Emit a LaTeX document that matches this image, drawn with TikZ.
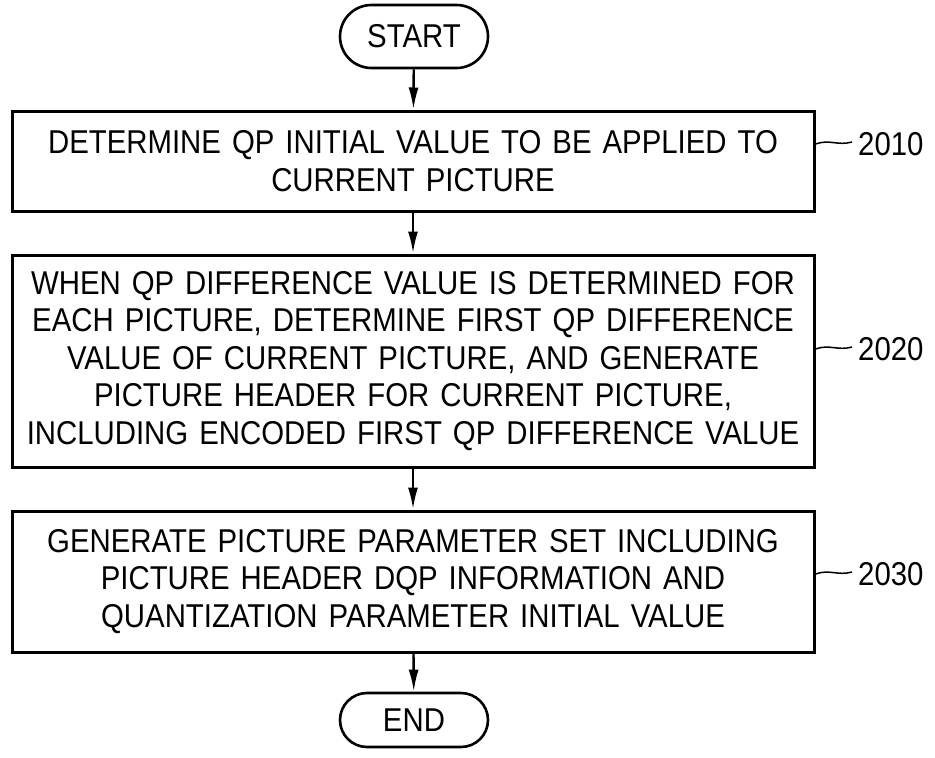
\documentclass[tikz,border=0pt]{standalone}
\usepackage{fontspec}
\setmainfont[FakeStretch=0.89]{Liberation Sans}
\usetikzlibrary{%
  shapes.misc,%
  calc,%
  arrows.meta%
}
\tikzset{
  stepbox/.style={draw,line width=3pt,minimum width=802pt,text width=795pt,
    align=center,inner sep=0pt,font=\fontsize{33}{37.5}\selectfont},
  term/.style={draw,rounded rectangle,line width=2.6pt,minimum width=148pt,
    inner sep=0pt,font=\fontsize{33}{37.5}\selectfont},
  tag/.style={anchor=west,inner sep=0pt,font=\fontsize{33}{37.5}\selectfont},
  flow/.style={line width=2.4pt,-{Latex[length=22pt,width=10pt]}},
  lead/.style={line width=1.5pt}
}

\begin{document}
\begin{tikzpicture}[x=1pt,y=-1pt]
\useasboundingbox (0,0) rectangle (935,758);
\node[term,minimum height=63pt] (start) at (414,36.5) {START};
\node[stepbox,minimum height=100pt] (s2010) at (413,161)
  {DETERMINE QP INITIAL VALUE TO BE APPLIED TO\\CURRENT PICTURE};
\node[stepbox,minimum height=212pt] (s2020) at (413,361)
  {WHEN QP DIFFERENCE VALUE IS DETERMINED FOR\\EACH PICTURE, DETERMINE FIRST QP DIFFERENCE\\VALUE OF CURRENT PICTURE, AND GENERATE\\PICTURE HEADER FOR CURRENT PICTURE,\\INCLUDING ENCODED FIRST QP DIFFERENCE VALUE};
\node[stepbox,minimum height=141pt] (s2030) at (413,581.5)
  {GENERATE PICTURE PARAMETER SET INCLUDING\\PICTURE HEADER DQP INFORMATION AND\\QUANTIZATION PARAMETER INITIAL VALUE};
\node[term,minimum height=54pt] (end) at (414,720) {END};
\node[tag] (l2010) at (858,144) {2010};
\node[tag] (l2020) at (858,349) {2020};
\node[tag] (l2030) at (858,574) {2030};
\draw[flow] (start) edge (s2010)
            (s2010) edge (s2020)
            (s2020) edge (s2030)
            (s2030) edge (end)
;
\draw[lead] (s2010.east |- l2010.west) .. controls +(14,-5) and +(-14,4) .. ($(l2010.west)+(-6,-2)$);
\draw[lead] (s2020.east |- l2020.west) .. controls +(14,-5) and +(-14,4) .. ($(l2020.west)+(-6,-2)$);
\draw[lead] (s2030.east |- l2030.west) .. controls +(14,-5) and +(-14,4) .. ($(l2030.west)+(-6,-2)$);
\end{tikzpicture}
\end{document}
